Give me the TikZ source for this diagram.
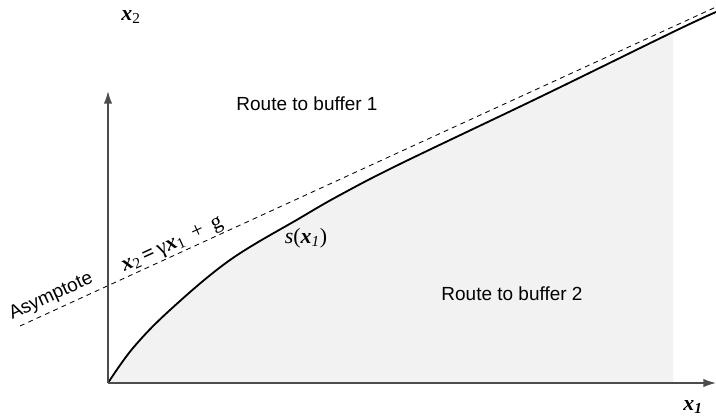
\documentclass[tikz,border=0pt]{standalone}
\usepackage{fontspec}
\setmainfont{Liberation Serif}
\setsansfont{Liberation Sans}
\usetikzlibrary{arrows.meta}
\newcommand{\vx}{\textbf{\textit{x}}}
\tikzset{
    axis/.style={draw=black!70, line width=1.1pt, -{Latex[length=9pt,width=6pt]}},
    boundary/.style={draw=black, line width=1.3pt},
    asymptote/.style={draw=black, line width=0.6pt, dash pattern=on 3.5pt off 3pt},
    region/.style={font=\fontsize{13.5}{16}\selectfont\sffamily},
    mathlabel/.style={font=\fontsize{15.5}{18}\selectfont}
}

\begin{document}
\begin{tikzpicture}[x=0.025cm, y=0.025cm]
    \useasboundingbox (-108,-34) rectangle (608,383);
    % shaded region below the switching curve
    \begin{scope}
        \clip (0,0) rectangle (565,400);
        \fill[black!5] plot[smooth, tension=0.6] coordinates {(0,0) (25,35) (62,73) (122,123) (192,165) (232,188) (292,219) (432,286) (565,351) (608,371)} -- (608,0) -- cycle;
    \end{scope}

    \coordinate (origin) at (0,0);
    \coordinate (xend) at (608,0);
    \coordinate (yend) at (0,292);
    \coordinate (asymstart) at (-88,57);
    \coordinate (asymend) at (608,376);

    \draw [asymptote] (asymstart) -- node[pos=0.053, sloped, above, region] {Asymptote}
        node[pos=0.225, sloped, above, inner sep=0.5pt, mathlabel] {\vx\textsubscript{2}\,\textbf{=}\,γ\vx\textsubscript{1} \,+\, g} (asymend);

    \draw [boundary] plot[smooth, tension=0.6] coordinates {(0,0) (25,35) (62,73) (122,123) (192,165) (232,188) (292,219) (432,286) (565,351) (608,371)};

    \draw [axis] (origin) -- (xend);
    \draw [axis] (origin) -- (yend);

    \node (xlabel) [mathlabel] at (585,-24) {\vx\textsubscript{\textbf{\textit{1}}}};
    \node (ylabel) [mathlabel] at (23,366) {\vx\textsubscript{2}};
    \node (curvelabel) [mathlabel] at (198,145) {\textit{s}(\vx\textsubscript{\textit{1}})};
    \node (buffer1) [region] at (199,279) {Route to buffer 1};
    \node (buffer2) [region] at (404,89) {Route to buffer 2};
\end{tikzpicture}
\end{document}
